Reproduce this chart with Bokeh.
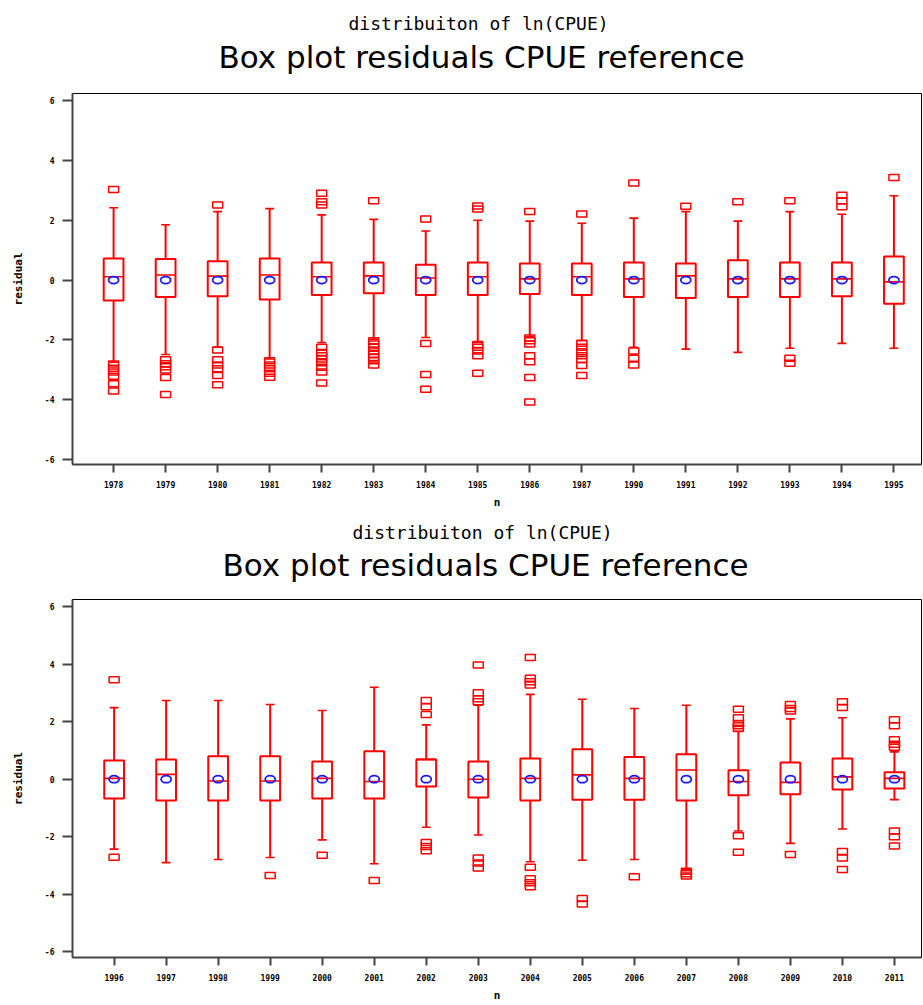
from bokeh.plotting import figure
from bokeh.layouts import column
from bokeh.models import FixedTicker, Range1d, Title
from bokeh.embed import file_html
from bokeh.resources import INLINE

# ---------------- data: top panel ----------------
years_top = ["1978", "1979", "1980", "1981", "1982", "1983", "1984", "1985",
             "1986", "1987", "1990", "1991", "1992", "1993", "1994", "1995"]
hi_top = [2.42, 1.85, 2.29, 2.39, 2.18, 2.03, 1.64, 2.00, 1.97, 1.90, 2.07, 2.29, 1.97, 2.29, 2.20, 2.82]
q3_top = [0.72, 0.70, 0.63, 0.72, 0.59, 0.59, 0.51, 0.59, 0.55, 0.55, 0.59, 0.55, 0.66, 0.59, 0.59, 0.79]
med_top = [0.11, 0.17, 0.13, 0.17, 0.11, 0.14, 0.07, 0.11, 0.04, 0.11, 0.04, 0.14, 0.04, 0.04, 0.04, -0.06]
q1_top = [-0.68, -0.57, -0.54, -0.65, -0.50, -0.44, -0.50, -0.50, -0.47, -0.50, -0.57, -0.60, -0.57, -0.57, -0.54, -0.79]
lo_top = [-2.75, -2.49, -2.25, -2.64, -2.09, -1.98, -1.92, -2.09, -1.90, -2.03, -2.25, -2.31, -2.42, -2.28, -2.12, -2.28]
mean_top = [0.00, 0.00, 0.00, 0.00, 0.00, 0.00, 0.00, 0.00, 0.00, 0.00, 0.00, 0.00, 0.00, 0.00, 0.00, 0.00]
outliers_top = [
    [3.03, -2.81, -2.95, -3.08, -3.22, -3.47, -3.71],
    [-2.67, -2.80, -2.90, -3.01, -3.26, -3.83],
    [2.51, -2.34, -2.67, -2.84, -2.97, -3.19, -3.50],
    [-2.70, -2.84, -2.97, -3.12, -3.25],
    [2.90, 2.62, 2.51, -2.25, -2.42, -2.53, -2.64, -2.77, -2.92, -3.08, -3.44],
    [2.65, -2.03, -2.14, -2.25, -2.37, -2.48, -2.59, -2.70, -2.84],
    [2.04, -2.12, -3.16, -3.65],
    [2.48, 2.38, -2.16, -2.25, -2.37, -2.53, -3.12],
    [2.29, -1.94, -2.03, -2.14, -2.53, -2.73, -3.26, -4.08],
    [2.21, -2.11, -2.25, -2.40, -2.53, -2.66, -2.86, -3.19],
    [3.25, -2.37, -2.62, -2.84],
    [2.47],
    [2.62],
    [2.65, -2.62, -2.78],
    [2.84, 2.65, 2.45],
    [3.43],
]

# ---------------- data: bottom panel ----------------
years_bot = ["1996", "1997", "1998", "1999", "2000", "2001", "2002", "2003",
             "2004", "2005", "2006", "2007", "2008", "2009", "2010", "2011"]
hi_bot = [2.49, 2.74, 2.74, 2.60, 2.39, 3.20, 1.89, 2.57, 2.95, 2.78, 2.46, 2.57, 1.66, 2.10, 2.14, 0.95]
q3_bot = [0.65, 0.69, 0.80, 0.80, 0.62, 0.97, 0.69, 0.62, 0.72, 1.04, 0.77, 0.87, 0.31, 0.58, 0.72, 0.24]
med_bot = [0.03, 0.17, -0.06, -0.06, 0.03, -0.08, 0.69, 0.00, 0.03, 0.15, 0.03, 0.32, -0.08, -0.11, 0.08, 0.03]
q1_bot = [-0.67, -0.74, -0.74, -0.74, -0.67, -0.67, -0.25, -0.64, -0.74, -0.71, -0.71, -0.74, -0.56, -0.52, -0.36, -0.32]
lo_bot = [-2.43, -2.90, -2.79, -2.72, -2.11, -2.94, -1.67, -1.94, -2.87, -2.82, -2.79, -3.14, -1.80, -2.23, -1.73, -0.71]
mean_bot = [0.00, 0.00, 0.00, 0.00, 0.00, 0.00, 0.00, 0.00, 0.00, 0.00, 0.00, 0.00, 0.00, 0.00, 0.00, 0.00]
outliers_bot = [
    [3.46, -2.71],
    [],
    [],
    [-3.35],
    [-2.64],
    [-3.52],
    [2.74, 2.52, 2.25, -2.20, -2.34, -2.49],
    [3.97, 3.01, 2.80, 2.69, -2.74, -2.91, -3.09],
    [4.23, 3.51, 3.39, 3.28, -3.06, -3.46, -3.60, -3.74],
    [-4.15, -4.34],
    [-3.39],
    [-3.20, -3.29, -3.37],
    [2.43, 2.14, 1.94, 1.86, 1.77, -1.97, -2.54],
    [2.60, 2.46, 2.37, -2.62],
    [2.69, 2.49, -2.51, -2.74, -3.14],
    [2.07, 1.86, 1.37, 1.22, 1.11, -1.80, -2.00, -2.32],
]

y_ticks = [-6, -4, -2, 0, 2, 4, 6]
subtitle = "distribuiton of ln(CPUE)"
title = "Box plot residuals CPUE reference"
y_label = "residual"
x_label = "n"

RED = "#ff0000"
BLUE = "#1a1aff"
TICK_FONT = "DejaVu Sans Mono"


def make_panel(years, lo, q1, med, q3, hi, means, outliers, height, border_top,
               border_bottom, border_left, x_range, y_range, title_off, sub_off,
               title_standoff, sub_standoff):
    p = figure(width=922, height=height, output_backend="svg", toolbar_location=None,
               x_range=Range1d(*x_range), y_range=Range1d(*y_range),
               min_border_top=border_top, min_border_bottom=border_bottom,
               min_border_left=border_left, min_border_right=1)
    p.xgrid.visible = False
    p.ygrid.visible = False
    p.outline_line_color = "black"
    p.outline_line_width = 1
    p.background_fill_color = "white"
    p.border_fill_color = "white"

    n = len(years)
    xs = list(range(n))
    bw = 0.19
    cw = 0.085
    p.quad(left=[x - bw for x in xs], right=[x + bw for x in xs], top=q3, bottom=q1,
           fill_alpha=0, line_color=RED, line_width=2)
    p.segment(x0=[x - bw for x in xs], y0=med, x1=[x + bw for x in xs], y1=med,
              line_color=RED, line_width=1.6)
    p.segment(x0=xs, y0=q3, x1=xs, y1=hi, line_color=RED, line_width=2)
    p.segment(x0=xs, y0=q1, x1=xs, y1=lo, line_color=RED, line_width=2)
    p.segment(x0=[x - cw for x in xs], y0=hi, x1=[x + cw for x in xs], y1=hi,
              line_color=RED, line_width=1.6)
    p.segment(x0=[x - cw for x in xs], y0=lo, x1=[x + cw for x in xs], y1=lo,
              line_color=RED, line_width=1.6)
    ox, oy = [], []
    for i, vals in enumerate(outliers):
        for v in vals:
            ox.append(i)
            oy.append(v)
    p.rect(x=ox, y=oy, width=10, height=6, width_units="screen", height_units="screen",
           fill_alpha=0, line_color=RED, line_width=1.5)
    p.ellipse(x=xs, y=means, width=10, height=7, width_units="screen", height_units="screen",
              fill_alpha=0, line_color=BLUE, line_width=1.8)

    p.xaxis.ticker = FixedTicker(ticks=xs)
    p.xaxis.major_label_overrides = {i: years[i] for i in xs}
    p.yaxis.ticker = FixedTicker(ticks=y_ticks)
    p.yaxis.major_label_overrides = {v: str(v) for v in y_ticks}
    for ax in (p.xaxis[0], p.yaxis[0]):
        ax.axis_line_color = "#444444"
        ax.axis_line_width = 2
        ax.major_tick_line_color = "#444444"
        ax.major_tick_line_width = 2
        ax.minor_tick_line_color = None
        ax.major_tick_in = 0
        ax.major_label_text_font = TICK_FONT
        ax.major_label_text_font_style = "bold"
        ax.major_label_text_font_size = "8px"
        ax.major_label_text_color = "black"
        ax.axis_label_text_font = TICK_FONT
        ax.axis_label_text_font_style = "bold"
        ax.axis_label_text_font_size = "11px"
        ax.axis_label_text_color = "black"
    p.xaxis.major_tick_out = 8
    p.xaxis.major_label_standoff = 8
    p.yaxis.major_tick_out = 10
    p.yaxis.major_label_standoff = 8
    p.yaxis.axis_label = y_label
    p.yaxis.axis_label_standoff = 17
    p.xaxis.axis_label = x_label
    p.xaxis.axis_label_standoff = 5

    # main title closest to the frame, subtitle stacked above it
    p.add_layout(Title(text=title, align="left", offset=title_off, standoff=title_standoff,
                       text_font="DejaVu Sans", text_font_size="31px",
                       text_font_style="normal", text_color="black"), "above")
    p.add_layout(Title(text=subtitle, align="left", offset=sub_off, standoff=sub_standoff,
                       text_font="DejaVu Sans Mono", text_font_size="18px",
                       text_font_style="normal", text_color="black"), "above")
    return p


# top: frame 93..466 (page), left 72
p1 = make_panel(years_top, lo_top, q1_top, med_top, q3_top, hi_top, mean_top, outliers_top,
                height=511, border_top=93, border_bottom=45, border_left=72,
                x_range=(-0.79, 15.53), y_range=(-6.17, 6.24),
                title_off=146, sub_off=276, title_standoff=38, sub_standoff=-32)
# bottom: frame 599..962 (page), left 68
p2 = make_panel(years_bot, lo_bot, q1_bot, med_bot, q3_bot, hi_bot, mean_bot, outliers_bot,
                height=493, border_top=88, border_bottom=42, border_left=68,
                x_range=(-0.80, 15.52), y_range=(-6.2, 6.25),
                title_off=150, sub_off=280, title_standoff=33, sub_standoff=-28)

layout = column(p1, p2, spacing=0)
open("out.html", "w").write(file_html(layout, INLINE))
